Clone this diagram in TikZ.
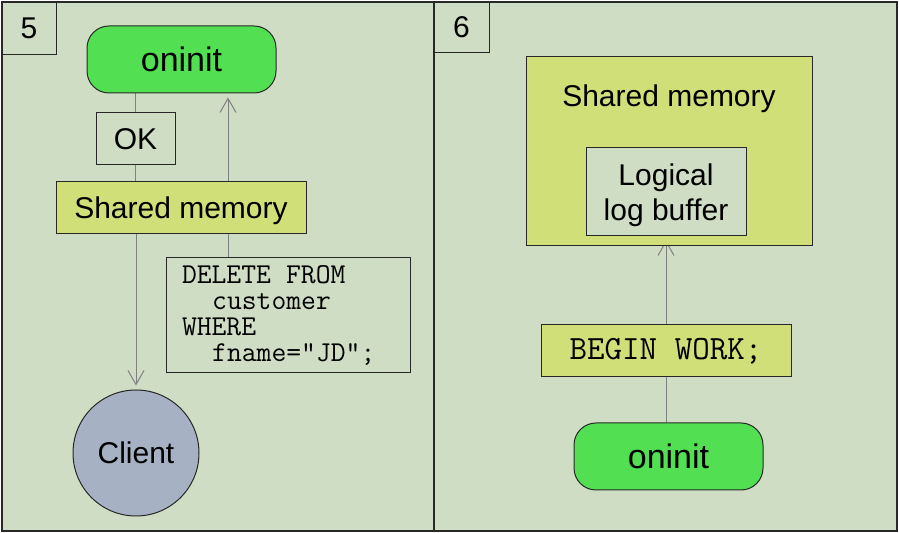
\documentclass[tikz,border=0pt]{standalone}
\usepackage{fontspec}
\setmainfont{Liberation Sans}
\usetikzlibrary{arrows.meta,calc}
\definecolor{bgc}{RGB}{206,221,196}
\definecolor{ylw}{RGB}{208,223,120}
\definecolor{grn}{RGB}{82,224,82}
\definecolor{cli}{RGB}{166,178,196}
\definecolor{wire}{RGB}{128,128,128}
\definecolor{edge}{RGB}{40,40,40}
\newcommand{\chsp}[1]{\hspace*{#1\dimexpr0.525em\relax}}
\pgfdeclarelayer{panel}
\pgfdeclarelayer{wires}
\pgfsetlayers{panel,wires,main}
\tikzset{
  box/.style={draw=edge, line width=0.5pt, rectangle, inner sep=0pt, align=center, font=\fontsize{15}{17.5}\selectfont},
  pill/.style={box, fill=grn, rounded corners=11pt, font=\fontsize{17}{20}\selectfont},
  code/.style={box, font=\fontsize{14.4}{13}\ttfamily},
  con/.style={draw=wire, line width=0.5pt},
  arr/.style={con, -{Straight Barb[length=7pt,width=8pt,line width=0.5pt]}, shorten >=2pt},
}
\begin{document}
\begin{tikzpicture}[x=0.5pt, y=-0.5pt]
\useasboundingbox (0,0) rectangle (899,533);
\begin{pgfonlayer}{panel}
  \fill[white] (0,0) rectangle (899,533);
  \fill[bgc] (1,1) rectangle (898,532);
  \draw[edge, line width=0.7pt] (2,2) rectangle (434,531);
  \draw[edge, line width=0.7pt] (434,2) rectangle (897,531);
\end{pgfonlayer}
% left panel
\node[box, minimum width=27pt, minimum height=26.5pt] (n5) at (29,28.5) {5};
\node[pill, minimum width=94.5pt, minimum height=33.5pt] (oninitA) at (181.5,59.5) {oninit};
\node[box, minimum width=39.5pt, minimum height=26pt] (ok) at (135.5,139) {OK};
\node[box, fill=ylw, minimum width=125pt, minimum height=26pt, text depth=0pt] (shmA) at (181,208) {Shared memory};
\node[box, circle, fill=cli, minimum size=63pt] (client) at (136,453) {Client};
\node[code, minimum width=122pt, minimum height=57.5pt, text width=106pt, align=left] (del) at (288,315.5)
  {DELETE\chsp{1}FROM\\\chsp{2}customer\\WHERE\\\chsp{2}fname="JD";};
\coordinate (upx) at (228,0);
% right panel
\node[box, minimum width=27.5pt, minimum height=25.5pt] (n6) at (461.5,27.5) {6};
\node[box, fill=ylw, minimum width=143pt, minimum height=94.5pt,
  label={[anchor=center, yshift=-21pt, font=\fontsize{15}{17.5}\selectfont]north:Shared memory}] (shmB) at (669,151.5) {};
\node[box, fill=bgc, minimum width=80pt, minimum height=44pt, text depth=0pt] (logbuf) at (666,192) {Logical\\log buffer};
\node[box, fill=ylw, minimum width=125pt, minimum height=26pt, font=\fontsize{17}{18}\ttfamily] (begin) at (666,351) {BEGIN\chsp{1}WORK;};
\node[pill, minimum width=94.5pt, minimum height=33.5pt] (oninitB) at (668.5,456.5) {oninit};
% connectors
\begin{pgfonlayer}{wires}
  \draw[con] (oninitA.south -| ok) -- (ok.north);
  \draw[con] (ok.south) -- (shmA.north -| ok);
  \draw[arr] (shmA.south -| client) -- (client.north);
  \draw[arr] (del.north -| upx) -- (oninitA.south -| upx);
  \draw[arr] (begin.north) -- (logbuf.south);
  \draw[con] (oninitB.north -| begin) -- (begin.south);
\end{pgfonlayer}
\end{tikzpicture}
\end{document}
